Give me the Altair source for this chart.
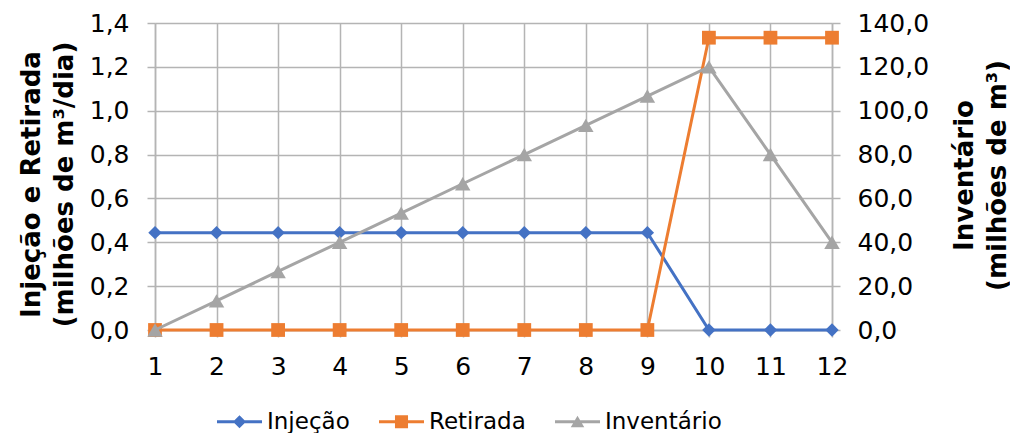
import altair as alt
import pandas as pd

# Monthly series (month 1..12)
meses = [1, 2, 3, 4, 5, 6, 7, 8, 9, 10, 11, 12]
injecao = [0.444, 0.444, 0.444, 0.444, 0.444, 0.444, 0.444, 0.444, 0.444, 0.0, 0.0, 0.0]
retirada = [0.0, 0.0, 0.0, 0.0, 0.0, 0.0, 0.0, 0.0, 0.0, 1.333, 1.333, 1.333]
inventario = [0.0, 13.3, 26.7, 40.0, 53.3, 66.7, 80.0, 93.3, 106.7, 120.0, 80.0, 40.0]

series = ["Injeção", "Retirada", "Inventário"]
cores = ["#4472C4", "#ED7D31", "#A5A5A5"]

# Left and right axis tick values
ticks_esq = [0.0, 0.2, 0.4, 0.6, 0.8, 1.0, 1.2, 1.4]
ticks_dir = [0, 20, 40, 60, 80, 100, 120, 140]

FONTE = "DejaVu Sans"
GRADE = "#B4B4B4"
TAM_ROTULO = 25
TAM_TITULO = 26
TAM_LEGENDA = 23

df = pd.DataFrame({
    "mes": meses,
    "injecao": injecao,
    "retirada": retirada,
    "inventario": inventario,
})

# Legend symbols: a line segment with the series marker on top
simbolos_legenda = [
    "M-1,-0.067L1,-0.067L1,0.067L-1,0.067Z M0,-0.29L0.29,0L0,0.29L-0.29,0Z",
    "M-1,-0.067L1,-0.067L1,0.067L-1,0.067Z M-0.29,-0.29L0.29,-0.29L0.29,0.29L-0.29,0.29Z",
    "M-1,-0.067L1,-0.067L1,0.067L-1,0.067Z M0,-0.27L0.3,0.24L-0.3,0.24Z",
]

eixo_x = alt.Axis(
    values=meses, grid=True, gridColor=GRADE, gridWidth=1.5,
    domainColor=GRADE, domainWidth=1.5, tickColor=GRADE, tickWidth=1.5, tickSize=7,
    labelFont=FONTE, labelFontSize=TAM_ROTULO, labelColor="#000000", labelPadding=17,
    labelFlush=False, labelOverlap=False,
    title=None,
)
x = alt.X("mes:Q", scale=alt.Scale(domain=[1, 12], nice=False, zero=False), axis=eixo_x)

eixo_esq = alt.Axis(
    values=ticks_esq, grid=True, gridColor=GRADE, gridWidth=1.5,
    domainColor=GRADE, domainWidth=1.5, tickColor=GRADE, tickWidth=1.5, tickSize=8,
    labelFont=FONTE, labelFontSize=TAM_ROTULO, labelColor="#000000", labelPadding=18,
    labelFlush=False,
    labelExpr="replace(format(datum.value, '.1f'), '.', ',')",
    title=["Injeção e Retirada", "(milhões de m³/dia)"],
    titleFont=FONTE, titleFontSize=TAM_TITULO, titleFontWeight="bold", titleColor="#000000",
    titleAngle=270, titleBaseline="bottom", titleLineHeight=33,
    titleX=-111, titleY=161,
)
escala_esq = alt.Scale(domain=[0, 1.4], nice=False, zero=True)

eixo_dir = alt.Axis(
    orient="right", values=ticks_dir, grid=False,
    domainColor=GRADE, domainWidth=1.5, tickColor=GRADE, tickWidth=1.5, tickSize=8,
    labelFont=FONTE, labelFontSize=TAM_ROTULO, labelColor="#000000", labelPadding=17,
    labelFlush=False,
    labelExpr="replace(format(datum.value, '.1f'), '.', ',')",
    title=["Inventário", "(milhões de m³)"],
    titleFont=FONTE, titleFontSize=TAM_TITULO, titleFontWeight="bold", titleColor="#000000",
    titleAngle=270, titleBaseline="bottom", titleLineHeight=33,
    titleX=145, titleY=152,
)
escala_dir = alt.Scale(domain=[0, 140], nice=False, zero=True)

base = alt.Chart(df)


def serie(campo, cor, forma, tamanho, escala, eixo):
    y = alt.Y(f"{campo}:Q", scale=escala, axis=eixo)
    linha = base.mark_line(color=cor, strokeWidth=3).encode(x=x, y=y)
    pontos = base.mark_point(filled=True, shape=forma, size=tamanho, color=cor, opacity=1).encode(x=x, y=y)
    return linha + pontos


esquerda = alt.layer(
    serie("injecao", cores[0], "diamond", 180, escala_esq, eixo_esq),
    serie("retirada", cores[1], "square", 190, escala_esq, eixo_esq),
)
direita = serie("inventario", cores[2], "triangle-up", 240, escala_dir, eixo_dir)

legenda_cfg = alt.Legend(
    title=None, orient="none", direction="horizontal",
    legendX=62, legendY=376, padding=0,
    labelFont=FONTE, labelFontSize=TAM_LEGENDA, labelColor="#000000", labelOffset=5,
    columnPadding=29, symbolSize=2025, symbolStrokeWidth=0, symbolOpacity=1,
)
df_legenda = pd.DataFrame({"serie": series, "mes": [1, 1, 1]})
legenda = alt.Chart(df_legenda).mark_point(filled=True, opacity=0).encode(
    x=alt.X("mes:Q", scale=alt.Scale(domain=[1, 12], nice=False, zero=False), axis=eixo_x),
    color=alt.Color("serie:N", scale=alt.Scale(domain=series, range=cores), legend=legenda_cfg, sort=series),
    shape=alt.Shape("serie:N", scale=alt.Scale(domain=series, range=simbolos_legenda), legend=legenda_cfg, sort=series),
)

chart = (
    alt.layer(esquerda, direita, legenda)
    .resolve_scale(y="independent")
    .properties(
        width=677, height=307,
        padding={"left": 155, "top": 23, "right": 178, "bottom": 103},
        autosize=alt.AutoSizeParams(type="none"),
        background="#FFFFFF",
    )
    .configure_view(strokeWidth=0)
)

chart.save("out.html", embed_options={"renderer": "svg", "actions": False})
